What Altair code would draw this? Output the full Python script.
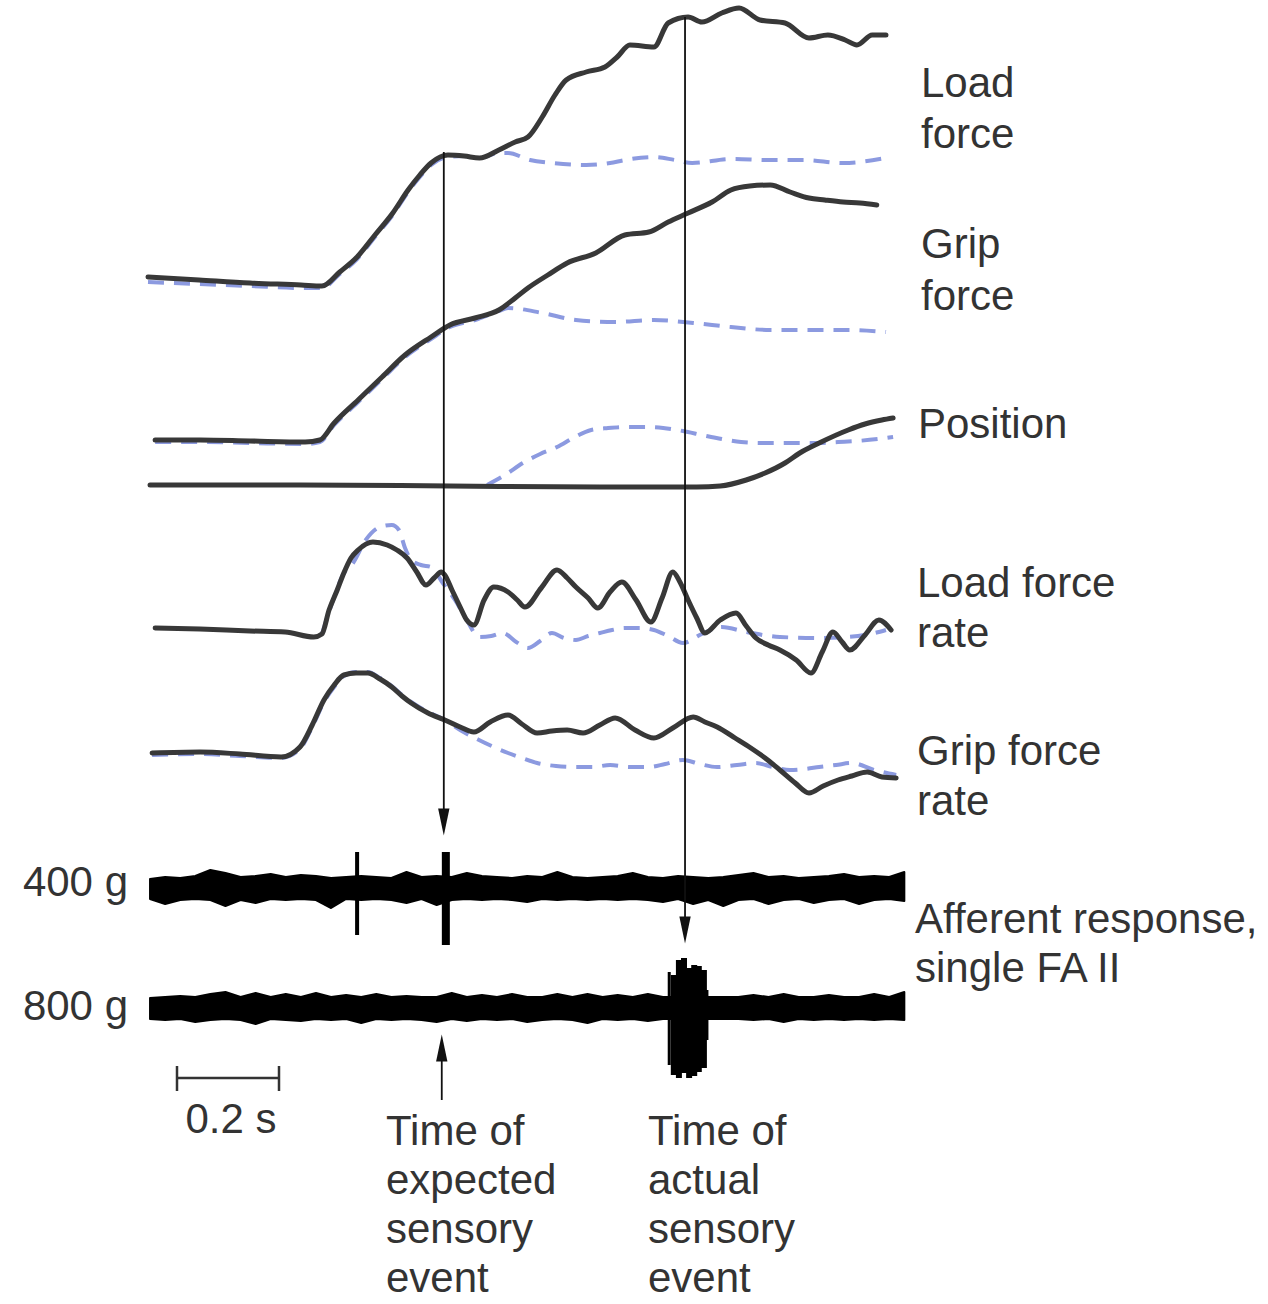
import altair as alt
import numpy as np
import pandas as pd

# ---------------------------------------------------------------------------
# Recorded traces: time (s) and deflection above each trace's resting level
# (arbitrary units, upward positive). Solid = lift of the heavy object,
# dashed = the previous (lighter) lift.
# ---------------------------------------------------------------------------
load_t = [0.000, 0.100, 0.200, 0.300, 0.341, 0.376, 0.410, 0.445, 0.480, 0.510,
          0.533, 0.555, 0.588, 0.620, 0.650, 0.688, 0.720, 0.745, 0.773, 0.798,
          0.820, 0.859, 0.896, 0.920, 0.945, 0.992, 1.020, 1.059, 1.086, 1.125,
          1.159, 1.200, 1.249, 1.296, 1.333, 1.367, 1.390, 1.420, 1.447]
load_v = [3, 0, -3, -5, -6, 8, 23, 45, 67, 90,
          105, 117, 125, 124, 122, 130, 138, 143, 163, 185,
          200, 208, 213, 223, 235, 233, 257, 263, 258, 267,
          272, 260, 257, 242, 245, 240, 235, 245, 245]
load_prev_t = [0.000, 0.100, 0.200, 0.300, 0.341, 0.376, 0.410, 0.445, 0.480, 0.510,
               0.533, 0.555, 0.588, 0.620, 0.650, 0.688, 0.706, 0.749, 0.792, 0.859,
               0.906, 0.935, 0.992, 1.033, 1.067, 1.143, 1.220, 1.286, 1.363, 1.447]
load_prev_v = [-2, -4, -6, -8, -8, 6, 21, 43, 65, 88,
               103, 115, 123, 124, 122, 127, 127, 120, 117, 115,
               117, 120, 123, 120, 117, 121, 120, 120, 117, 122]

grip_t = [0.014, 0.102, 0.200, 0.308, 0.337, 0.365, 0.412, 0.459, 0.504, 0.555,
          0.592, 0.641, 0.688, 0.720, 0.745, 0.784, 0.822, 0.878, 0.935, 0.982,
          1.020, 1.059, 1.106, 1.143, 1.180, 1.220, 1.259, 1.296, 1.327, 1.363,
          1.396, 1.429]
grip_v = [0, 0, -1, -2, 0, 17, 40, 63, 85, 103,
          115, 122, 130, 142, 152, 165, 177, 187, 205, 208,
          218, 227, 238, 250, 254, 255, 248, 242, 240, 238,
          237, 235]
grip_prev_t = [0.014, 0.102, 0.200, 0.308, 0.337, 0.365, 0.412, 0.459, 0.504, 0.555,
               0.592, 0.641, 0.688, 0.706, 0.773, 0.839, 0.916, 0.992, 1.069, 1.143,
               1.220, 1.296, 1.373, 1.447]
grip_prev_v = [-2, -2, -3, -4, -2, 15, 38, 61, 83, 101,
               113, 120, 129, 132, 127, 120, 118, 120, 117, 113,
               110, 110, 110, 108]

pos_t = [0.004, 0.298, 0.592, 0.886, 1.076, 1.122, 1.173, 1.210, 1.249, 1.278,
         1.316, 1.373, 1.406, 1.439, 1.461]
pos_v = [1, 1, 0, -1, -1, 0, 6, 13, 23, 33, 43, 56, 62, 66, 68]
pos_prev_t = [0.665, 0.700, 0.735, 0.769, 0.802, 0.837, 0.869, 0.902, 0.935, 0.975,
              1.010, 1.049, 1.086, 1.125, 1.163, 1.200, 1.239, 1.278, 1.316, 1.353,
              1.390, 1.447, 1.461]
pos_prev_v = [1, 11, 23, 32, 39, 49, 56, 58, 59, 59,
              58, 55, 51, 47, 44, 43, 43, 43, 43, 44,
              45, 48, 49]

lrate_t = [0.014, 0.102, 0.200, 0.269, 0.325, 0.341, 0.355, 0.371, 0.384, 0.398,
           0.412, 0.441, 0.469, 0.488, 0.508, 0.527, 0.545, 0.561, 0.575, 0.582,
           0.596, 0.612, 0.625, 0.639, 0.659, 0.678, 0.706, 0.724, 0.739, 0.771,
           0.802, 0.822, 0.839, 0.863, 0.882, 0.906, 0.929, 0.957, 0.986, 1.008,
           1.029, 1.043, 1.059, 1.076, 1.092, 1.122, 1.153, 1.173, 1.192, 1.216,
           1.239, 1.271, 1.300, 1.322, 1.343, 1.361, 1.376, 1.406, 1.433, 1.457]
lrate_v = [2, 1, -1, -2, -7, -4, 20, 40, 57, 72,
           80, 88, 85, 80, 72, 58, 45, 52, 58, 55,
           40, 23, 10, 5, 30, 43, 38, 30, 23, 42,
           60, 52, 43, 32, 22, 38, 48, 30, 8, 32,
           58, 48, 30, 12, -3, 10, 17, 4, -8, -15,
           -20, -30, -43, -22, -2, -12, -20, -5, 10, 0]
lrate_prev_t = [0.341, 0.363, 0.382, 0.402, 0.427, 0.455, 0.478, 0.492, 0.504, 0.516,
                0.535, 0.555, 0.578, 0.602, 0.625, 0.649, 0.673, 0.696, 0.722, 0.745,
                0.769, 0.792, 0.816, 0.839, 0.863, 0.886, 0.910, 0.935, 0.965, 0.992,
                1.020, 1.049, 1.086, 1.125, 1.173, 1.239, 1.316, 1.373, 1.416, 1.447]
lrate_prev_v = [-4, 30, 55, 67, 90, 103, 105, 100, 82, 70,
                65, 63, 47, 30, 10, -7, -6, -3, -12, -18,
                -11, -3, -8, -10, -6, -3, 0, 2, 2, 0,
                -6, -13, -4, 3, -2, -7, -8, -7, -4, 0]

grate_t = [0.008, 0.102, 0.180, 0.261, 0.298, 0.322, 0.345, 0.365, 0.384, 0.408,
           0.431, 0.455, 0.478, 0.498, 0.516, 0.549, 0.582, 0.612, 0.639, 0.671,
           0.706, 0.733, 0.763, 0.792, 0.822, 0.853, 0.886, 0.916, 0.955, 0.992,
           1.029, 1.069, 1.092, 1.116, 1.151, 1.182, 1.210, 1.239, 1.269, 1.296,
           1.324, 1.353, 1.380, 1.410, 1.439, 1.467]
grate_v = [2, 3, 1, -2, 8, 30, 55, 70, 80, 82,
           82, 76, 68, 59, 52, 42, 35, 28, 23, 33,
           40, 31, 22, 24, 25, 22, 30, 37, 25, 17,
           27, 38, 33, 28, 17, 7, -3, -15, -28, -38,
           -31, -25, -21, -17, -22, -23]
grate_prev_t = [0.008, 0.102, 0.180, 0.261, 0.298, 0.322, 0.345, 0.365, 0.384, 0.408,
                0.431, 0.455, 0.478, 0.498, 0.516, 0.549, 0.582, 0.612, 0.649, 0.678,
                0.706, 0.733, 0.763, 0.800, 0.839, 0.873, 0.906, 0.945, 0.982, 1.014,
                1.049, 1.082, 1.116, 1.155, 1.192, 1.225, 1.259, 1.288, 1.316, 1.349,
                1.380, 1.424, 1.467]
grate_prev_v = [0, 1, -1, -3, 6, 28, 53, 68, 79, 83,
                83, 77, 69, 60, 53, 43, 35, 25, 15, 8,
                2, -3, -8, -11, -12, -12, -10, -12, -12, -9,
                -5, -9, -12, -10, -8, -12, -15, -14, -12, -10,
                -8, -15, -20]

# Afferent (FA II) recordings: noise envelope above / below the trace centre,
# sampled on a regular time grid.
aff_t = np.round(np.linspace(0.004, 1.483, 51), 4)
aff400_up = [9, 11, 10, 12, 18, 15, 11, 12, 14, 11,
             13, 12, 10, 11, 12, 11, 10, 16, 11, 12,
             11, 15, 12, 11, 10, 12, 11, 16, 11, 10,
             11, 12, 15, 11, 10, 12, 11, 10, 11, 13,
             15, 11, 12, 10, 11, 12, 14, 11, 12, 11, 16]
aff400_dn = [11, 16, 12, 11, 12, 18, 12, 15, 11, 12,
             11, 12, 20, 11, 12, 11, 12, 15, 11, 17,
             12, 11, 12, 11, 12, 14, 11, 12, 11, 12,
             11, 12, 11, 12, 14, 11, 16, 12, 18, 12,
             11, 16, 12, 11, 15, 12, 11, 16, 12, 11, 13]
aff800_up = [10, 11, 12, 11, 14, 16, 11, 15, 11, 14,
             11, 15, 11, 13, 11, 14, 11, 12, 11, 11,
             15, 11, 13, 11, 14, 11, 11, 14, 11, 14,
             11, 13, 11, 14, 11, 11, 11, 11, 11, 11,
             13, 11, 14, 11, 11, 13, 11, 11, 14, 11, 16]
aff800_dn = [11, 12, 11, 14, 12, 11, 12, 16, 11, 12,
             13, 11, 12, 11, 15, 11, 12, 11, 12, 14,
             11, 13, 11, 12, 11, 14, 12, 11, 12, 15,
             11, 12, 11, 13, 11, 11, 11, 11, 11, 11,
             12, 11, 14, 11, 12, 11, 12, 11, 12, 11, 12]

# Action potentials: time (s), excursion up / down from the trace centre
spike400_t = [0.410, 0.584]
spike400_up = [36, 36]
spike400_dn = [47, 57]
spike400_w = [4, 8]
burst800_t = [1.022, 1.031, 1.041, 1.051, 1.061, 1.071, 1.080, 1.090, 1.094]
burst800_up = [36, 33, 48, 50, 40, 43, 42, 38, 18]
burst800_dn = [57, 67, 70, 65, 70, 68, 64, 60, 32]
burst800_w = [3, 6, 6, 6, 6, 6, 6, 6, 5]

# Event times (s)
t_expected = 0.580
t_actual = 1.053

# ---------------------------------------------------------------------------
# Layout
# ---------------------------------------------------------------------------
W, H = 1268, 1304
PX_PER_S = 510.0      # horizontal gain: 0.2 s scale bar = 102 px
X0 = 148.0            # left edge of the traces

def to_s(px):
    return (px - X0) / PX_PER_S

rest = {"load": 280, "grip": 440, "pos": 486, "lrate": 630, "grate": 755,
        "400 g": 888, "800 g": 1008}

SOLID = "#383838"
DASH = "#8c9ae0"
TEXT = "#333333"
FONT = "Liberation Sans"

rows = []
for name, style, ts, vs in [
    ("load", "solid", load_t, load_v), ("load", "dash", load_prev_t, load_prev_v),
    ("grip", "solid", grip_t, grip_v), ("grip", "dash", grip_prev_t, grip_prev_v),
    ("pos", "solid", pos_t, pos_v), ("pos", "dash", pos_prev_t, pos_prev_v),
    ("lrate", "solid", lrate_t, lrate_v), ("lrate", "dash", lrate_prev_t, lrate_prev_v),
    ("grate", "solid", grate_t, grate_v), ("grate", "dash", grate_prev_t, grate_prev_v),
]:
    for t, v in zip(ts, vs):
        rows.append({"trace": name + "-" + style, "style": style, "t": t,
                     "d": rest[name] - v})
traces = pd.DataFrame(rows)

aff_rows = []
for unit, ups, dns in [("400 g", aff400_up, aff400_dn), ("800 g", aff800_up, aff800_dn)]:
    for t, u, dn in zip(aff_t, ups, dns):
        aff_rows.append({"unit": unit, "t": float(t), "top": rest[unit] - u,
                         "bottom": rest[unit] + dn})
aff = pd.DataFrame(aff_rows)

spk_rows = []
for t, u, dn, w in zip(spike400_t, spike400_up, spike400_dn, spike400_w):
    spk_rows.append({"t": t, "top": rest["400 g"] - u, "bottom": rest["400 g"] + dn, "w": w})
for t, u, dn, w in zip(burst800_t, burst800_up, burst800_dn, burst800_w):
    spk_rows.append({"t": t, "top": rest["800 g"] - u, "bottom": rest["800 g"] + dn, "w": w})
spikes = pd.DataFrame(spk_rows)

XS = alt.Scale(domain=[to_s(0), to_s(W)], nice=False, zero=False)
YS = alt.Scale(domain=[0, H], reverse=True, nice=False, zero=False)
X = alt.X("t:Q", scale=XS, axis=None)
Y = alt.Y("d:Q", scale=YS, axis=None)

dashed = alt.Chart(traces[traces["style"] == "dash"]).mark_line(
    color=DASH, strokeWidth=4, strokeDash=[16, 10], interpolate="monotone"
).encode(x=X, y=Y, detail="trace:N")

solid = alt.Chart(traces[traces["style"] == "solid"]).mark_line(
    color=SOLID, strokeWidth=5, interpolate="monotone", strokeJoin="round", strokeCap="round"
).encode(x=X, y=Y, detail="trace:N")

aff_band = alt.Chart(aff).mark_area(
    color="black", stroke="black", strokeWidth=2, strokeJoin="round", interpolate="linear"
).encode(
    x=X,
    y=alt.Y("top:Q", scale=YS, axis=None),
    y2="bottom:Q",
    detail="unit:N",
)

spike_marks = alt.Chart(spikes).mark_rule(color="black").encode(
    x=X,
    y=alt.Y("top:Q", scale=YS, axis=None),
    y2="bottom:Q",
    strokeWidth=alt.StrokeWidth("w:Q", scale=None),
)

# Event markers: vertical lines and arrowheads
events = pd.DataFrame({
    "t": [t_expected, t_actual, t_expected - 0.004],
    "top": [152, 17, 1045],
    "bottom": [815, 922, 1100],
})
event_lines = alt.Chart(events).mark_rule(color="#111111", strokeWidth=1.8).encode(
    x=X, y=alt.Y("top:Q", scale=YS, axis=None), y2="bottom:Q"
)

heads_down = pd.DataFrame({"t": [t_expected, t_actual], "d": [822, 930]})
heads_up = pd.DataFrame({"t": [t_expected - 0.004], "d": [1048]})
arrow_down = alt.Chart(heads_down).mark_point(
    shape="M-0.42,-1L0.42,-1L0,1Z", filled=True, opacity=1, color="#111111",
    size=729, strokeWidth=0
).encode(x=X, y=Y)
arrow_up = alt.Chart(heads_up).mark_point(
    shape="M-0.42,1L0.42,1L0,-1Z", filled=True, opacity=1, color="#111111",
    size=729, strokeWidth=0
).encode(x=X, y=Y)

# 0.2 s scale bar
bar_t0 = to_s(177)
bar = pd.DataFrame({"t": [bar_t0], "t2": [bar_t0 + 0.2], "d": [1078]})
bar_line = alt.Chart(bar).mark_rule(color="#333333", strokeWidth=2.5).encode(
    x=X, x2="t2:Q", y=Y
)
bar_ends = pd.DataFrame({"t": [bar_t0, bar_t0 + 0.2], "top": [1066, 1066], "bottom": [1091, 1091]})
bar_ticks = alt.Chart(bar_ends).mark_rule(color="#333333", strokeWidth=2.5).encode(
    x=X, y=alt.Y("top:Q", scale=YS, axis=None), y2="bottom:Q"
)

# Labels (left edge / baseline in page pixels, converted to scale units)
left_labels = [
    ("Load", 921, 97), ("force", 921, 148),
    ("Grip", 921, 258), ("force", 921, 310),
    ("Position", 918, 438),
    ("Load force", 917, 597), ("rate", 917, 647),
    ("Grip force", 917, 765), ("rate", 917, 815),
    ("Afferent response,", 915, 933), ("single FA II", 915, 982),
    ("Time of", 386, 1145), ("expected", 386, 1194), ("sensory", 386, 1243), ("event", 386, 1292),
    ("Time of", 648, 1145), ("actual", 648, 1194), ("sensory", 648, 1243), ("event", 648, 1292),
]
right_labels = [("400 g", 128, 896), ("800 g", 128, 1020)]
center_labels = [("0.2 s", 231, 1133)]

def label_layer(items, align):
    df = pd.DataFrame({"text": [s for s, _, _ in items],
                       "t": [to_s(px) for _, px, _ in items],
                       "d": [py for _, _, py in items]})
    return alt.Chart(df).mark_text(
        align=align, baseline="alphabetic", font=FONT, fontSize=42, color=TEXT
    ).encode(x=X, y=Y, text="text:N")

chart = alt.layer(
    dashed, solid, aff_band, spike_marks, event_lines, arrow_down, arrow_up,
    bar_line, bar_ticks,
    label_layer(left_labels, "left"),
    label_layer(right_labels, "right"),
    label_layer(center_labels, "center"),
).properties(
    width=W, height=H, padding=0, background="white",
    autosize=alt.AutoSizeParams(type="none"),
).configure_view(stroke=None)

chart.save("out.html", embed_options={"renderer": "svg", "actions": False})
